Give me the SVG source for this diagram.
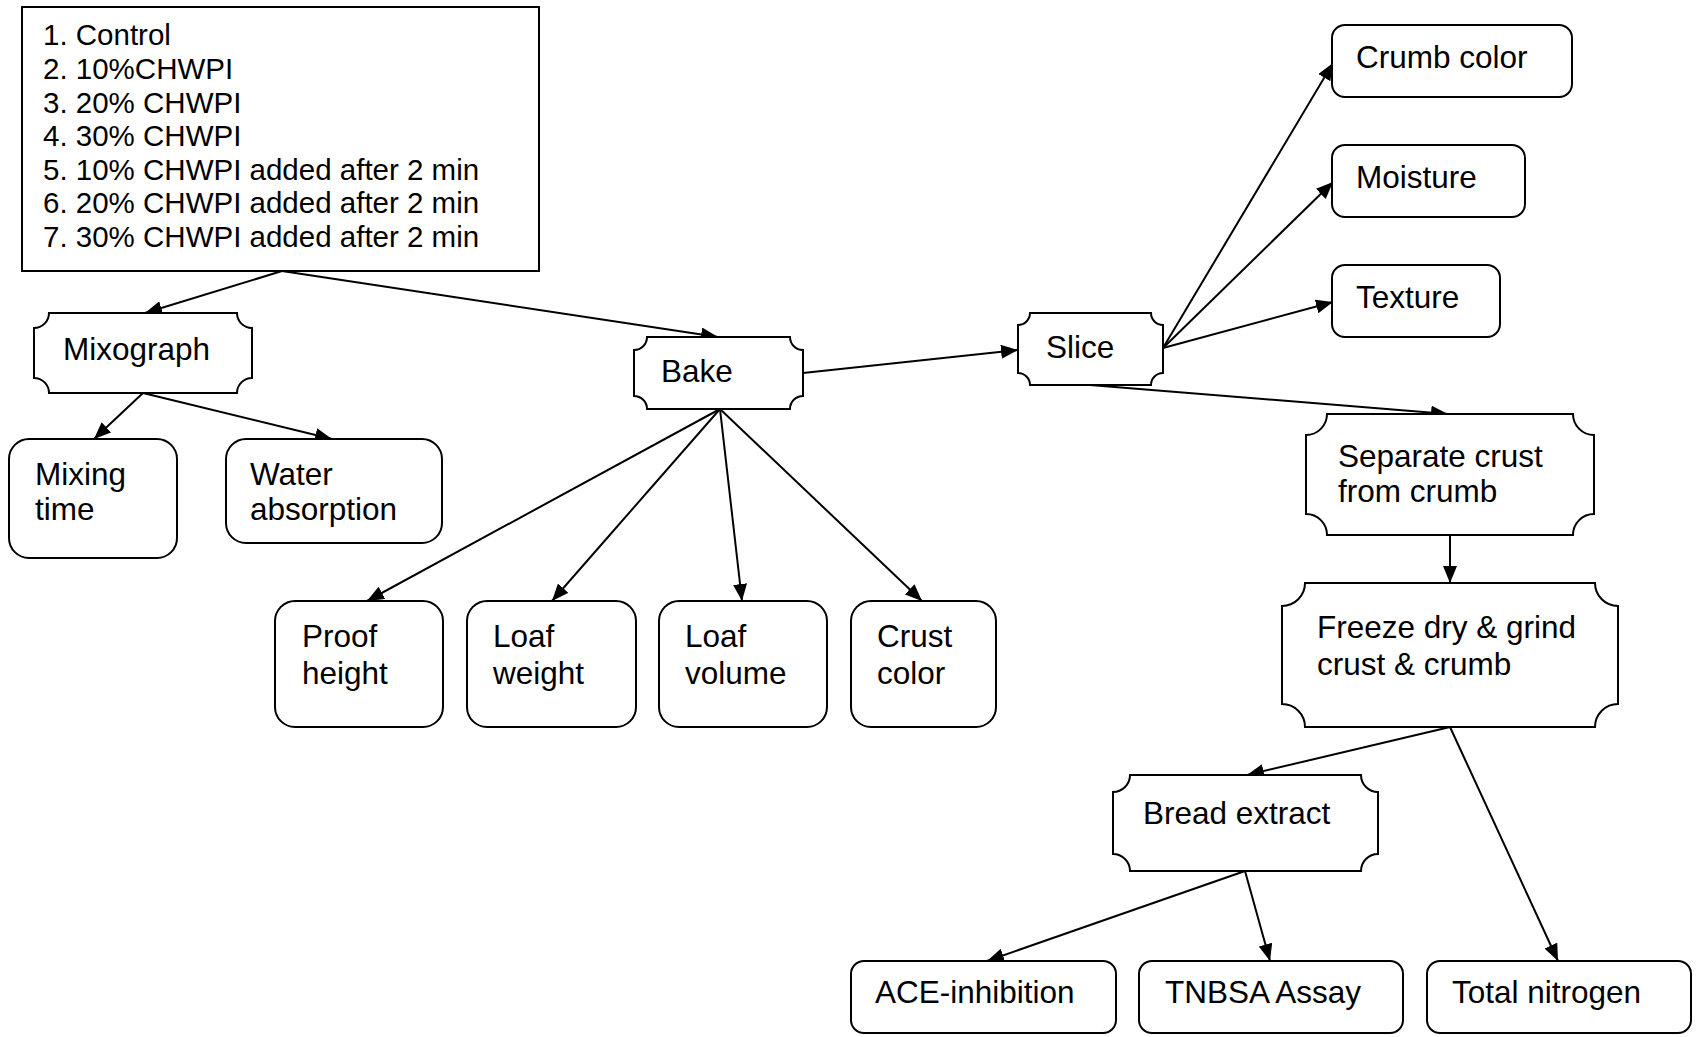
<svg xmlns="http://www.w3.org/2000/svg" width="1700" height="1037" viewBox="0 0 1700 1037">
<defs>
<marker id="ah" markerWidth="17" markerHeight="14" refX="17" refY="7" orient="auto" markerUnits="userSpaceOnUse">
<path d="M0,0 L17,7 L0,14 z" fill="#000"/>
</marker>
<style>
.box{fill:#fff;stroke:#000;stroke-width:2}
.t{font-family:"Liberation Sans",Arial,sans-serif;font-size:31.5px;fill:#000}
.lt{font-family:"Liberation Sans",Arial,sans-serif;font-size:29.5px;fill:#000}
.c{fill:none;stroke:#000;stroke-width:2;marker-end:url(#ah)}
</style>
</defs>
<rect width="1700" height="1037" fill="#fff"/>
<g id="connectors">
<line class="c" x1="282" y1="271" x2="145" y2="313"/>
<line class="c" x1="282" y1="271" x2="718" y2="337"/>
<line class="c" x1="143" y1="393" x2="94" y2="439"/>
<line class="c" x1="143" y1="393" x2="332" y2="439"/>
<line class="c" x1="720" y1="409" x2="367" y2="601"/>
<line class="c" x1="720" y1="409" x2="552" y2="601"/>
<line class="c" x1="720" y1="409" x2="742" y2="601"/>
<line class="c" x1="720" y1="409" x2="922" y2="601"/>
<line class="c" x1="803" y1="373" x2="1018" y2="350"/>
<line class="c" x1="1163" y1="348" x2="1333" y2="63"/>
<line class="c" x1="1163" y1="348" x2="1333" y2="182"/>
<line class="c" x1="1163" y1="348" x2="1333" y2="302"/>
<line class="c" x1="1090" y1="385" x2="1448" y2="414"/>
<line class="c" x1="1450" y1="535" x2="1450" y2="583"/>
<line class="c" x1="1450" y1="727" x2="1247" y2="775"/>
<line class="c" x1="1450" y1="727" x2="1558" y2="961"/>
<line class="c" x1="1245" y1="871" x2="987" y2="961"/>
<line class="c" x1="1245" y1="871" x2="1270" y2="961"/>
</g>
<g id="treatments">
<rect class="box" x="22" y="7" width="517" height="264"/>
<text class="lt" x="43" y="45">1. Control</text>
<text class="lt" x="43" y="79">2. 10%CHWPI</text>
<text class="lt" x="43" y="112.5">3. 20% CHWPI</text>
<text class="lt" x="43" y="146">4. 30% CHWPI</text>
<text class="lt" x="43" y="180">5. 10% CHWPI added after 2 min</text>
<text class="lt" x="43" y="213">6. 20% CHWPI added after 2 min</text>
<text class="lt" x="43" y="247">7. 30% CHWPI added after 2 min</text>
</g>
<g id="mixograph">
<path class="box" d="M49,313 L237,313 A15,15 0 0 0 252,328 L252,378 A15,15 0 0 0 237,393 L49,393 A15,15 0 0 0 34,378 L34,328 A15,15 0 0 0 49,313 Z"/>
<text class="t" x="63" y="360">Mixograph</text>
</g>
<g id="mixing-time">
<rect class="box" x="9" y="439" width="168" height="119" rx="20"/>
<text class="t" x="35" y="485">Mixing</text>
<text class="t" x="35" y="520">time</text>
</g>
<g id="water-absorption">
<rect class="box" x="226" y="439" width="216" height="104" rx="20"/>
<text class="t" x="250" y="485">Water</text>
<text class="t" x="250" y="520">absorption</text>
</g>
<g id="bake">
<path class="box" d="M647,337 L790,337 A13,13 0 0 0 803,350 L803,396 A13,13 0 0 0 790,409 L647,409 A13,13 0 0 0 634,396 L634,350 A13,13 0 0 0 647,337 Z"/>
<text class="t" x="661" y="382">Bake</text>
</g>
<g id="proof-height">
<rect class="box" x="275" y="601" width="168" height="126" rx="20"/>
<text class="t" x="302" y="647">Proof</text>
<text class="t" x="302" y="684">height</text>
</g>
<g id="loaf-weight">
<rect class="box" x="467" y="601" width="169" height="126" rx="20"/>
<text class="t" x="493" y="647">Loaf</text>
<text class="t" x="493" y="684">weight</text>
</g>
<g id="loaf-volume">
<rect class="box" x="659" y="601" width="168" height="126" rx="20"/>
<text class="t" x="685" y="647">Loaf</text>
<text class="t" x="685" y="684">volume</text>
</g>
<g id="crust-color">
<rect class="box" x="851" y="601" width="145" height="126" rx="20"/>
<text class="t" x="877" y="647">Crust</text>
<text class="t" x="877" y="684">color</text>
</g>
<g id="slice">
<path class="box" d="M1030,313 L1151,313 A12,12 0 0 0 1163,325 L1163,373 A12,12 0 0 0 1151,385 L1030,385 A12,12 0 0 0 1018,373 L1018,325 A12,12 0 0 0 1030,313 Z"/>
<text class="t" x="1046" y="358">Slice</text>
</g>
<g id="crumb-color">
<rect class="box" x="1332" y="25" width="240" height="72" rx="13"/>
<text class="t" x="1356" y="68">Crumb color</text>
</g>
<g id="moisture">
<rect class="box" x="1332" y="145" width="193" height="72" rx="13"/>
<text class="t" x="1356" y="188">Moisture</text>
</g>
<g id="texture">
<rect class="box" x="1332" y="265" width="168" height="72" rx="13"/>
<text class="t" x="1356" y="308">Texture</text>
</g>
<g id="separate">
<path class="box" d="M1327,414 L1573,414 A21,21 0 0 0 1594,435 L1594,514 A21,21 0 0 0 1573,535 L1327,535 A21,21 0 0 0 1306,514 L1306,435 A21,21 0 0 0 1327,414 Z"/>
<text class="t" x="1338" y="467">Separate crust</text>
<text class="t" x="1338" y="502">from crumb</text>
</g>
<g id="freeze-dry">
<path class="box" d="M1305,583 L1595,583 A23,23 0 0 0 1618,606 L1618,704 A23,23 0 0 0 1595,727 L1305,727 A23,23 0 0 0 1282,704 L1282,606 A23,23 0 0 0 1305,583 Z"/>
<text class="t" x="1317" y="638">Freeze dry &amp; grind</text>
<text class="t" x="1317" y="675">crust &amp; crumb</text>
</g>
<g id="bread-extract">
<path class="box" d="M1130,775 L1361,775 A17,17 0 0 0 1378,792 L1378,854 A17,17 0 0 0 1361,871 L1130,871 A17,17 0 0 0 1113,854 L1113,792 A17,17 0 0 0 1130,775 Z"/>
<text class="t" x="1143" y="824">Bread extract</text>
</g>
<g id="ace-inhibition">
<rect class="box" x="851" y="961" width="265" height="72" rx="13"/>
<text class="t" x="875" y="1003">ACE-inhibition</text>
</g>
<g id="tnbsa">
<rect class="box" x="1139" y="961" width="264" height="72" rx="13"/>
<text class="t" x="1165" y="1003">TNBSA Assay</text>
</g>
<g id="total-nitrogen">
<rect class="box" x="1427" y="961" width="264" height="72" rx="13"/>
<text class="t" x="1452" y="1003">Total nitrogen</text>
</g>
</svg>
